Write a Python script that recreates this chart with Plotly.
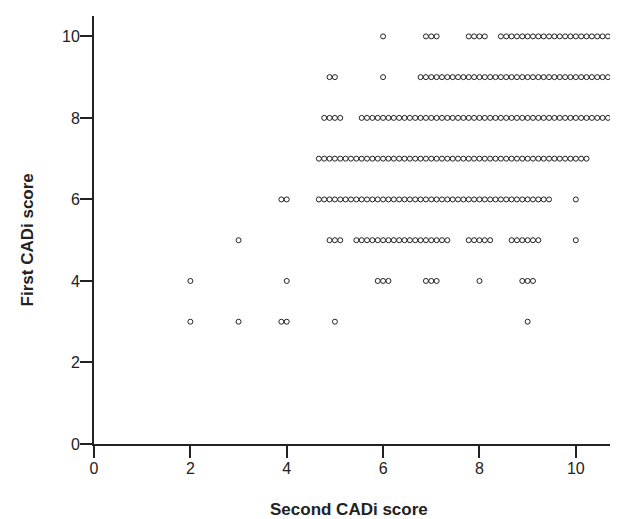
import plotly.graph_objects as go

# Second CADi score values (x categories, integer scores)
second_scores = [2, 3, 4, 5, 6, 7, 8, 9, 10]

# Number of subjects at each second score, one list per first CADi score
count_first_3 = [1, 1, 2, 1, 0, 0, 0, 1, 0]
count_first_4 = [1, 0, 1, 0, 3, 3, 1, 3, 0]
count_first_5 = [0, 1, 0, 3, 11, 7, 5, 6, 1]
count_first_6 = [0, 0, 2, 7, 11, 9, 9, 8, 1]
count_first_7 = [0, 0, 0, 7, 11, 10, 9, 9, 5]
count_first_8 = [0, 0, 0, 4, 9, 9, 9, 9, 11]
count_first_9 = [0, 0, 0, 2, 1, 5, 13, 11, 8]
count_first_10 = [0, 0, 0, 0, 1, 3, 4, 11, 10]

first_scores = [3, 4, 5, 6, 7, 8, 9, 10]
rows = [count_first_3, count_first_4, count_first_5, count_first_6,
        count_first_7, count_first_8, count_first_9, count_first_10]

x_ticks = [0, 2, 4, 6, 8, 10]
y_ticks = [0, 2, 4, 6, 8, 10]

STEP = 1 / 9  # horizontal spread between overlapping points (data units)


def swarm(counts):
    """Spread tied points horizontally onto free slots nearest their score."""
    taken = set()
    xs = []
    for score, n in zip(second_scores, counts):
        home = round(score / STEP)
        for _ in range(n):
            k = 0
            while True:
                if home - k not in taken:
                    slot = home - k
                    break
                if home + k not in taken:
                    slot = home + k
                    break
                k += 1
            taken.add(slot)
            xs.append(slot * STEP)
    return xs


px, py = [], []
for fs, counts in zip(first_scores, rows):
    xs = swarm(counts)
    px.extend(xs)
    py.extend([fs] * len(xs))

fig = go.Figure()
fig.add_trace(go.Scatter(
    x=px, y=py, mode="markers",
    marker=dict(symbol="circle-open", size=5, color="#222222",
                line=dict(width=1, color="#222222")),
    cliponaxis=False, hoverinfo="skip", showlegend=False,
))

tick_font = dict(family="Arial, Liberation Sans, sans-serif", size=16, color="#222222")
title_font = dict(family="Arial, Liberation Sans, sans-serif", size=17, color="#222222")

common_axis = dict(showgrid=False, zeroline=False, showline=True, linewidth=2,
                   linecolor="#222222", ticks="outside", ticklen=12, tickwidth=2,
                   tickcolor="#222222", tickfont=tick_font, ticklabelstandoff=-3)

fig.update_layout(
    width=618, height=519,
    margin=dict(l=86, r=2, t=8, b=83),
    paper_bgcolor="white", plot_bgcolor="white",
    font=tick_font,
    xaxis=dict(range=[0, 11], tickvals=x_ticks,
               ticktext=[str(v) for v in x_ticks], **common_axis),
    yaxis=dict(range=[0, 10.5], tickvals=y_ticks,
               ticktext=[str(v) for v in y_ticks], **common_axis),
    annotations=[
        dict(text="<b>Second CADi score</b>", xref="x", yref="paper",
             x=5.3, y=-0.154, showarrow=False, xanchor="center", yanchor="middle",
             font=title_font),
        dict(text="<b>First CADi score</b>", xref="paper", yref="y",
             x=-0.126, y=5, showarrow=False, xanchor="center", yanchor="middle",
             textangle=-90, font=title_font),
    ],
)

fig.write_html("out.html")
